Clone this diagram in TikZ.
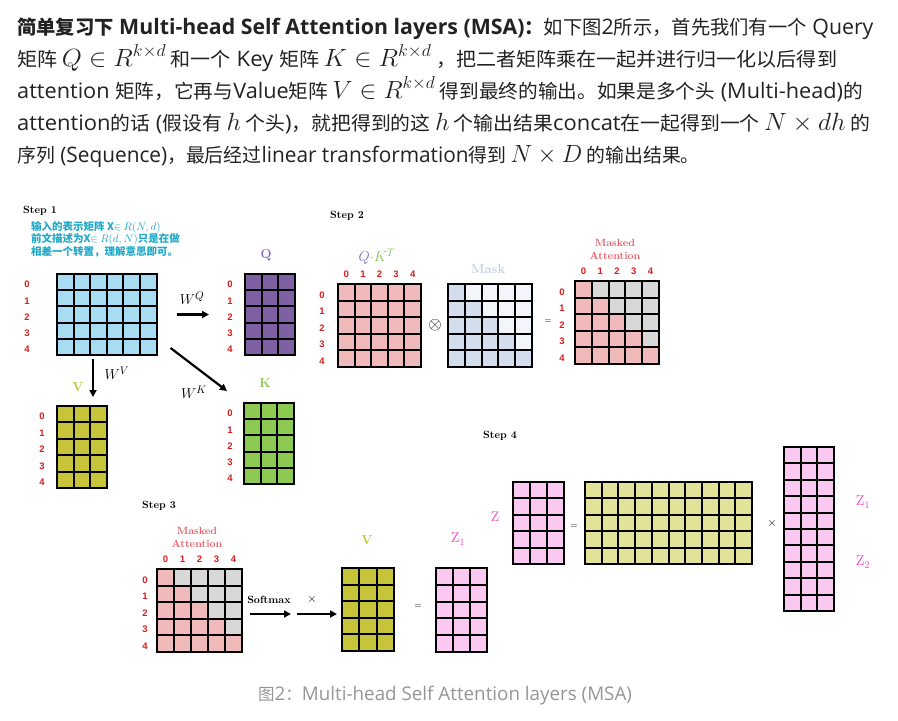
\documentclass[tikz,border=0pt]{standalone}
\usepackage[no-math]{fontspec}
\usepackage{graphicx}
\newfontfamily\cjk{Noto Sans CJK SC}
\newfontfamily\lsans{Liberation Sans}
\newfontfamily\osans{Open Sans}
\newcommand\E[1]{{\osans\fontsize{21.3}{22}\selectfont #1}}
\newcommand\Eb[1]{{\osans\bfseries\fontsize{21.3}{22}\selectfont #1}}
\newcommand\Ec[1]{{\osans\fontsize{18.8}{20}\selectfont #1}}
\newcommand\M[1]{{\fontsize{25}{26}\selectfont$#1$}}
\usetikzlibrary{arrows.meta,calc}
\definecolor{txt}{RGB}{34,34,34}
\definecolor{capgray}{RGB}{150,150,150}
\definecolor{rowred}{RGB}{212,32,32}
\definecolor{noteteal}{RGB}{30,170,200}
\definecolor{xblue}{RGB}{168,220,242}
\definecolor{qpurple}{RGB}{126,96,162}
\definecolor{qlabel}{RGB}{132,110,182}
\definecolor{volive}{RGB}{200,196,58}
\definecolor{vlabel}{RGB}{190,196,50}
\definecolor{kgreen}{RGB}{140,202,82}
\definecolor{klabel}{RGB}{140,200,80}
\definecolor{qkpink}{RGB}{240,186,186}
\definecolor{maskblue}{RGB}{210,222,238}
\definecolor{maskwhite}{RGB}{242,245,250}
\definecolor{masklabel}{RGB}{192,208,232}
\definecolor{mgray}{RGB}{216,216,216}
\definecolor{malabel}{RGB}{232,96,104}
\definecolor{zpink}{RGB}{250,200,240}
\definecolor{zmag}{RGB}{240,70,200}
\definecolor{khaki}{RGB}{226,226,152}
\newcommand\mtx[8]{%
  \node[inner sep=0pt, outer sep=0pt, anchor=north west, minimum width={#4*#6}, minimum height={#5*#7}, fill=#8] (#1) at (#2,#3) {};}
\newcommand\mgrid[6]{%
  \pgfmathtruncatemacro\mgc{#3-1}\pgfmathtruncatemacro\mgr{#4-1}%
  \foreach \i in {1,...,\mgc}{\draw[gl] ({#1+\i*#5},#2) -- ++(0,{#4*#6});}%
  \foreach \i in {1,...,\mgr}{\draw[gl] (#1,{#2+\i*#6}) -- ++({#3*#5},0);}%
  \draw[gl] (#1,#2) rectangle ++({#3*#5},{#4*#6});}
\newcommand\lowtri[5]{%
  \foreach \r in {0,...,4}{\foreach \c in {0,...,\r}{\fill[#5] ({#1+\c*#3},{#2+\r*#4}) rectangle ++(#3,#4);}}}
\newcommand\rlab[4]{%
  \foreach \i in {0,...,4}{\node[rl] (#1r\i) at (#2,{#3+(\i+0.5)*#4+2.5}) {\i};}}
\newcommand\clab[4]{%
  \foreach \i in {0,...,4}{\node[rl] (#1c\i) at ({#2+(\i+0.5)*#4},#3) {\i};}}
\begin{document}
\begin{tikzpicture}[x=1pt,y=-1pt,
  gl/.style={line width=2pt, black},
  arr/.style={line width=2.2pt, -{Triangle[length=7pt,width=7pt]}},
  para/.style={anchor=base west, inner sep=0pt, text=txt, font=\cjk\fontsize{19.3}{20}\selectfont},
  steplbl/.style={anchor=west, inner sep=0pt, font=\bfseries\fontsize{10.5}{12}\selectfont},
  note/.style={anchor=west, inner sep=0pt, text=noteteal, font=\cjk\bfseries\fontsize{10.5}{12}\selectfont},
  rl/.style={inner sep=0pt, text=rowred, font=\lsans\bfseries\fontsize{9.5}{10}\selectfont},
  mlbl/.style={inner sep=0pt, font=\bfseries\fontsize{13}{14}\selectfont},
  malbl/.style={inner sep=0pt, align=center, text=malabel, font=\bfseries\fontsize{10.5}{13}\selectfont},
  wlbl/.style={inner sep=0pt, font=\fontsize{15}{16}\selectfont},
  op/.style={inner sep=0pt, font=\fontsize{12}{12}\selectfont},
  zl/.style={inner sep=0pt, text=zmag, font=\fontsize{14}{14}\selectfont}]
\fill[white] (0,0) rectangle (898,721);
\useasboundingbox (0,0) rectangle (898,721);
% paragraph
\node[para] (p1) at (17,34) {{\bfseries 简单复习下\Eb{\ Multi-head Self Attention layers (MSA)}：}如下图\E{2}所示，首先我们有一个\E{ Query}};
\node[para] (p2) at (17,66) {\scalebox{1.039}[1]{矩阵 \M{Q\in R^{k\times d}} 和一个\E{ Key }矩阵 \M{K\in R^{k\times d}} ，把二者矩阵乘在一起并进行归一化以后得到}};
\node[para] (p3) at (17,98) {\scalebox{1.019}[1]{\E{attention }矩阵，它再与\E{Value}矩阵 \M{V\in R^{k\times d}} 得到最终的输出。如果是多个头\E{ (Multi-head)}的}};
\node[para] (p4) at (17,130) {\scalebox{1.029}[1]{\E{attention}的话\E{ (}假设有 \M{h} 个头\E{)}，就把得到的这 \M{h} 个输出结果\E{concat}在一起得到一个 \M{N\times dh} 的}};
\node[para] (p5) at (17,162) {\scalebox{0.977}[1]{序列\E{ (Sequence)}，最后经过\E{linear transformation}得到 \M{N\times D} 的输出结果。}};
% caption
\node[inner sep=0pt, anchor=base west, text=capgray, font=\cjk\fontsize{16.5}{20}\selectfont] (cap) at (258,700) {图\Ec{2}：\Ec{Multi-head Self Attention layers (MSA)}};

% ---------------- Step 1
\node[steplbl] (s1) at (23,211) {Step 1};
\node[note] (n1) at (31,227) {输入的表示矩阵 X$\in$ $R(N,d)$};
\node[note] (n2) at (31,239.5) {前文描述为X$\in$ $R(d,N)$只是在做};
\node[note] (n3) at (31,252) {相差一个转置，理解意思即可。};
\mtx{X}{57}{274}{6}{5}{16.6}{16.2}{xblue}\mgrid{57}{274}{6}{5}{16.6}{16.2}
\rlab{X}{27}{274}{16.2}
\node[mlbl, text=qlabel] (ql) at (266,255) {Q};
\mtx{Q}{245}{274}{3}{5}{16.7}{16.2}{qpurple}\mgrid{245}{274}{3}{5}{16.7}{16.2}
\rlab{Q}{230}{274}{16.2}
\mtx{V}{57}{406}{3}{5}{16.7}{16.4}{volive}\mgrid{57}{406}{3}{5}{16.7}{16.4}
\rlab{V}{42}{406}{16.4}
\node[mlbl, text=vlabel] (vl) at (78,387) {V};
\mtx{K}{244}{403}{3}{5}{16.7}{16.2}{kgreen}\mgrid{244}{403}{3}{5}{16.7}{16.2}
\rlab{K}{230}{403}{16.2}
\node[mlbl, text=klabel] (kl) at (265,383) {K};
\draw[arr] ([xshift=20pt]X.east) -- ([xshift=-36pt]Q.west);
\node[wlbl] (wq) at (192,298) {$W^Q$};
\draw[arr] ($(X.south west)+(36,4)$) -- ($(V.north west)+(36,-9)$);
\node[wlbl] (wv) at (117,373) {$W^V$};
\draw[arr] ($(X.south east)+(14,-7)$) -- ($(K.north west)+(-17,-12)$);
\node[wlbl] (wk) at (194,392) {$W^K$};

% ---------------- Step 2
\node[steplbl] (s2) at (330,216) {Step 2};
\node[inner sep=0pt, font=\fontsize{15}{16}\selectfont] (qkl) at (377,257) {$\textcolor{qlabel}{Q}\textcolor{klabel}{\cdot K^T}$};
\mtx{QK}{338}{284}{5}{5}{16.6}{16.6}{qkpink}\mgrid{338}{284}{5}{5}{16.6}{16.6}
\clab{QK}{338}{274}{16.6}
\rlab{QK}{322}{284}{16.6}
\node[inner sep=0pt, font=\fontsize{16}{16}\selectfont] (otimes) at (435,325) {$\otimes$};
\node[mlbl, text=masklabel] (maskl) at (488,269) {Mask};
\mtx{M}{448}{284}{5}{5}{16.8}{16.6}{maskwhite}
\lowtri{448}{284}{16.8}{16.6}{maskblue}
\mgrid{448}{284}{5}{5}{16.8}{16.6}
\node[op, font=\fontsize{9}{9}\selectfont] (eq2) at (548,322) {=};
\node[malbl] (mal2) at (615,249.5) {Masked\\Attention};
\mtx{MA}{575}{281}{5}{5}{16.8}{16.6}{mgray}
\lowtri{575}{281}{16.8}{16.6}{qkpink}
\mgrid{575}{281}{5}{5}{16.8}{16.6}
\clab{MA}{575}{271}{16.8}
\rlab{MA}{562}{281}{16.6}

% ---------------- Step 3
\node[steplbl] (s3) at (142,506) {Step 3};
\node[malbl] (mal3) at (197,537.5) {Masked\\Attention};
\mtx{MB}{157}{569}{5}{5}{17}{16.6}{mgray}
\lowtri{157}{569}{17}{16.6}{qkpink}
\mgrid{157}{569}{5}{5}{17}{16.6}
\clab{MB}{157}{559}{17}
\rlab{MB}{145}{569}{16.6}
\node[inner sep=0pt, font=\bfseries\fontsize{10.5}{12}\selectfont] (soft) at (269,600) {Softmax};
\node[op] (times3) at (312,599) {$\times$};
\mtx{VB}{342}{568}{3}{5}{17.3}{16.6}{volive}\mgrid{342}{568}{3}{5}{17.3}{16.6}
\node[mlbl, text=vlabel] (vl3) at (367,540) {V};
\draw[arr] ($(MB.east)+(8,3.5)$) -- ($(VB.west)+(-51,4.5)$);
\draw[arr] ($(VB.west)+(-45,4.5)$) -- ($(VB.west)+(-5,4.5)$);
\node[op, font=\fontsize{9}{9}\selectfont] (eq3) at (418,607) {=};
\mtx{ZA}{436}{568}{3}{5}{17}{16.8}{zpink}\mgrid{436}{568}{3}{5}{17}{16.8}
\node[zl] (z1a) at (458,539) {$\mathrm{Z}_1$};

% ---------------- Step 4
\node[steplbl] (s4) at (483,436) {Step 4};
\node[zl] (zb) at (495,517) {Z};
\mtx{ZB}{513}{482}{3}{5}{17}{16.4}{zpink}\mgrid{513}{482}{3}{5}{17}{16.4}
\node[op, font=\fontsize{9}{9}\selectfont] (eq4) at (574,527) {=};
\mtx{BIG}{585}{482}{10}{5}{16.7}{16.4}{khaki}\mgrid{585}{482}{10}{5}{16.7}{16.4}
\node[op] (times4) at (772,523) {$\times$};
\mtx{TALL}{784}{447}{3}{10}{16.7}{16.4}{zpink}\mgrid{784}{447}{3}{10}{16.7}{16.4}
\node[zl] (z1b) at (863,502) {$\mathrm{Z}_1$};
\node[zl] (z2b) at (863,562) {$\mathrm{Z}_2$};
\end{tikzpicture}
\end{document}
